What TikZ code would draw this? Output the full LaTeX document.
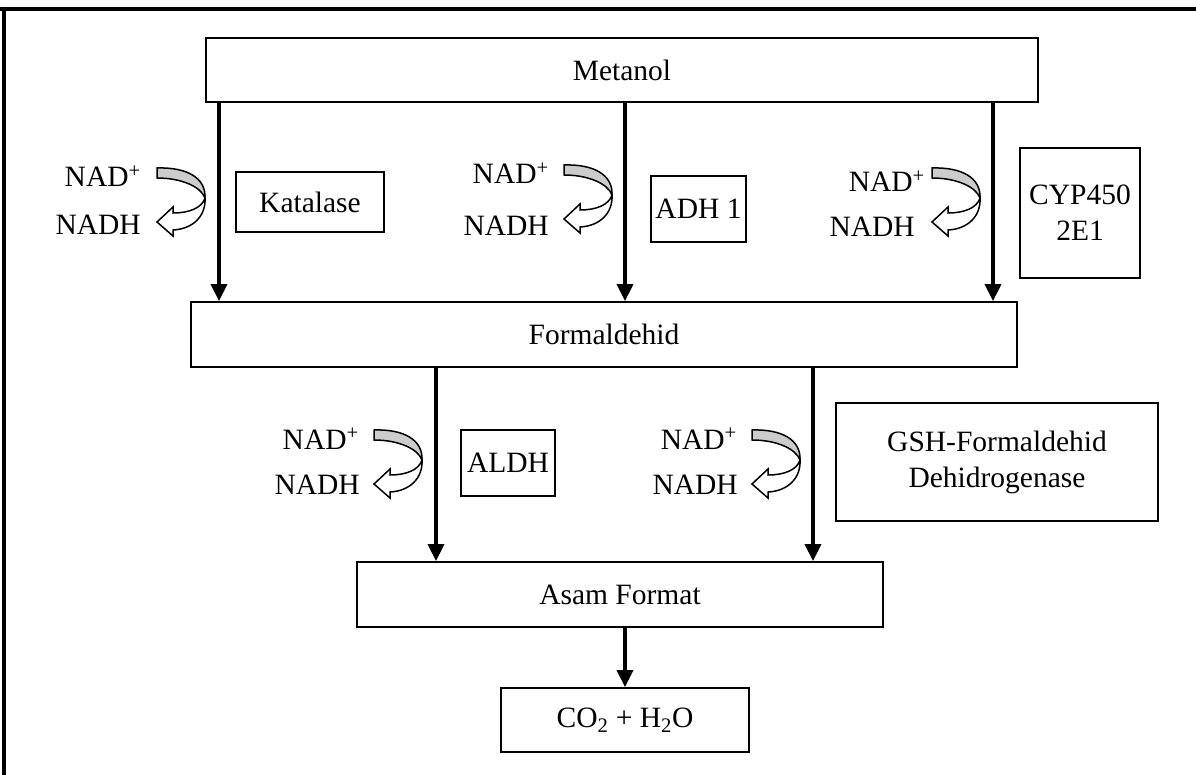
\documentclass[tikz,border=0pt]{standalone}
\usepackage{fontspec}
\setmainfont{Liberation Serif}
\usetikzlibrary{arrows.meta}
\tikzset{
  box/.style={draw, line width=1.8pt, inner sep=0pt, align=center, font=\fontsize{29.5}{36}\selectfont},
  lbl/.style={inner sep=0pt, font=\fontsize{29.5}{36}\selectfont},
  flow/.style={line width=3.6pt, -{Triangle[length=17pt,width=16pt]}},
  pics/nadarr/.style={code={
    \draw[line width=1.5pt, fill=gray!40] (0,0) .. controls (30,-1) and (49,10) .. (48,30)
        .. controls (44,19) and (25,10) .. (0,10) -- cycle;
    \draw[line width=1.5pt, fill=white] (48,30) .. controls (49,48) and (36,61) .. (16,62)
        -- (16,68) -- (0,54) -- (16,39) -- (16,45) .. controls (32,45) and (45,40) .. (48,30) -- cycle;
  }}
}
\begin{document}
\begin{tikzpicture}[x=1pt,y=-1pt]
\useasboundingbox (0,0) rectangle (1196,775);
% outer border (top and left)
\draw[line width=4pt] (0,9) coordinate (bt) -- (1196,9) coordinate (br);
\draw[line width=4pt] (4,7) coordinate (lt) -- (4,775) coordinate (lb);

\node[box, minimum width=832pt, minimum height=64pt] (metanol) at (622,70) {Metanol};
\node[box, minimum width=826pt, minimum height=65pt] (formal) at (604,334.5) {Formaldehid};
\node[box, minimum width=148pt, minimum height=60pt] (kat) at (310,202) {Katalase};
\node[box, minimum width=95pt, minimum height=66pt] (adh) at (698.5,209) {ADH 1};
\node[box, minimum width=120pt, minimum height=130pt] (cyp) at (1080,213) {CYP450\\2E1};
\node[box, minimum width=94pt, minimum height=66pt] (aldh) at (508,463) {ALDH};
\node[box, minimum width=322pt, minimum height=118pt] (gsh) at (997,462) {GSH-Formaldehid\\Dehidrogenase};
\node[box, minimum width=526pt, minimum height=65pt] (asam) at (620,594.5) {Asam Format};
\node[box, minimum width=248pt, minimum height=64pt] (co2) at (625,720) {CO\textsubscript{2} + H\textsubscript{2}O};

% arrows
\draw[flow] (metanol.south -| 219,0) -- (formal.north -| 219,0);
\draw[flow] (metanol.south -| 625,0) -- (formal.north -| 625,0);
\draw[flow] (metanol.south -| 993,0) -- (formal.north -| 993,0);
\draw[flow] (formal.south -| 436,0) -- (asam.north -| 436,0);
\draw[flow] (formal.south -| 813,0) -- (asam.north -| 813,0);
\draw[flow] (asam.south -| 625,0) -- (co2.north -| 625,0);

% cofactor labels and curved arrows
\node[lbl, anchor=base east] (n1a) at (141,187) {NAD\textsuperscript{+}};
\node[lbl, anchor=base east] (n1b) at (141,235) {NADH};
\pic at (157,168) {nadarr};

\node[lbl, anchor=base east] (n2a) at (549,184) {NAD\textsuperscript{+}};
\node[lbl, anchor=base east] (n2b) at (549,236) {NADH};
\pic at (564,165) {nadarr};

\node[lbl, anchor=base east] (n3a) at (925,192) {NAD\textsuperscript{+}};
\node[lbl, anchor=base east] (n3b) at (915,237) {NADH};
\pic at (932,168) {nadarr};

\node[lbl, anchor=base east] (n4a) at (359,449) {NAD\textsuperscript{+}};
\node[lbl, anchor=base east] (n4b) at (360,494) {NADH};
\pic at (374,430) {nadarr};

\node[lbl, anchor=base east] (n5a) at (737,449) {NAD\textsuperscript{+}};
\node[lbl, anchor=base east] (n5b) at (738,494) {NADH};
\pic at (752,430) {nadarr};
\end{tikzpicture}
\end{document}
